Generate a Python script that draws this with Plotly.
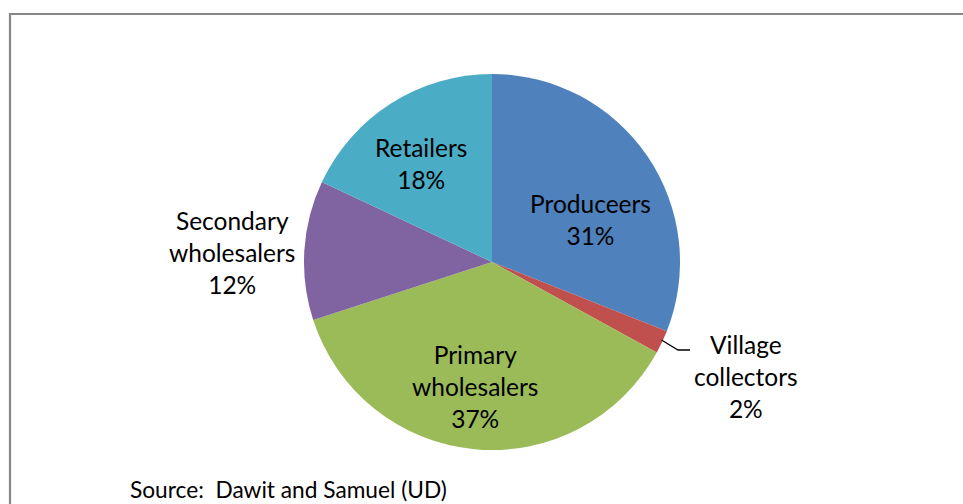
import plotly.graph_objects as go

W, H = 963, 504

categories = ["Produceers", "Village collectors", "Primary wholesalers",
              "Secondary wholesalers", "Retailers"]
shares = [31, 2, 37, 12, 18]
label_text = ["Produceers<br>31%", "Village<br>collectors<br>2%", "Primary<br>wholesalers<br>37%",
              "Secondary<br>wholesalers<br>12%", "Retailers<br>18%"]
source_text = "Source:\u00a0\u00a0Dawit and Samuel (UD)"
colors = ["#4F81BD", "#C0504D", "#9BBB59", "#8064A2", "#4BACC6"]

# label centres in pixels (style/layout)
label_px = [(590, 219), (746, 376), (475, 386), (232, 252), (421, 164)]

def px(x):
    return x / W

def py(y):
    return 1 - y / H

fig = go.Figure(go.Pie(
    labels=categories,
    values=shares,
    sort=False,
    direction="clockwise",
    rotation=0,
    marker=dict(colors=colors, line=dict(width=0)),
    textinfo="none",
    hoverinfo="label+percent",
    showlegend=False,
    domain=dict(x=[px(304), px(680)], y=[py(450), py(74)]),
))

FONT = "Lato"
FS = 24.5
annotations = []
for t, (x, y) in zip(label_text, label_px):
    annotations.append(dict(
        x=px(x), y=py(y), xref="paper", yref="paper", text=t, showarrow=False,
        xanchor="center", yanchor="middle", align="center",
        font=dict(family=FONT, size=FS, color="#000000"),
    ))
annotations.append(dict(
    x=px(128), y=py(489), xref="paper", yref="paper",
    text=source_text, showarrow=False,
    xanchor="left", yanchor="middle",
    font=dict(family=FONT, size=22.7, color="#000000"),
))

shapes = [
    dict(type="path", xref="paper", yref="paper",
         path=f"M {px(10)},{py(560)} L {px(10)},{py(14)} L {px(1000)},{py(14)}",
         line=dict(color="#878787", width=2.2)),
    dict(type="path", xref="paper", yref="paper",
         path=f"M {px(661.5)},{py(340)} L {px(678)},{py(350)} L {px(690)},{py(350)}",
         line=dict(color="#000000", width=1.3)),
]

fig.update_layout(
    width=W, height=H,
    margin=dict(l=0, r=0, t=0, b=0),
    paper_bgcolor="white", plot_bgcolor="white",
    annotations=annotations,
    shapes=shapes,
)

fig.write_html(
    "out.html",
    config={"displayModeBar": False},
    post_script="document.body.style.margin='0';document.body.style.overflow='hidden';",
)
